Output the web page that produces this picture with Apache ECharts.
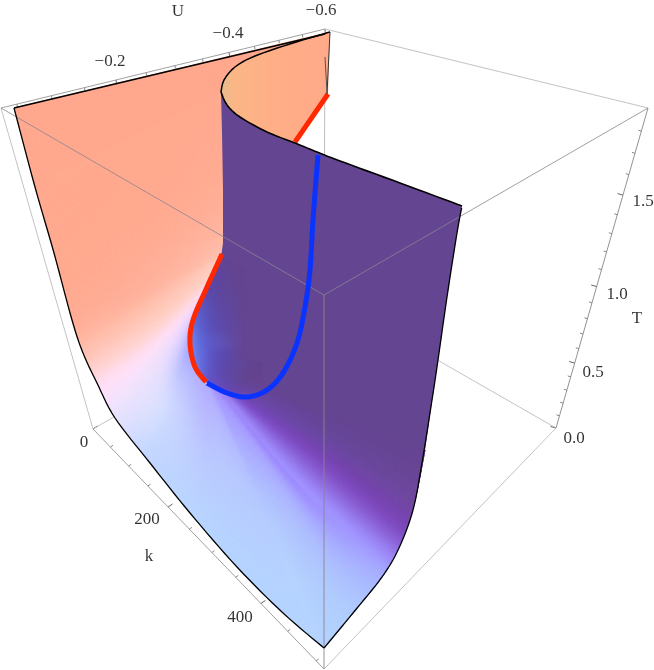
<!DOCTYPE html>
<html><head><meta charset="utf-8">
<style>html,body{margin:0;padding:0;background:#fff}#c{width:654px;height:670px}</style>
<script src="https://cdn.jsdelivr.net/npm/echarts@6/dist/echarts.min.js"></script>
</head><body><div id="c"></div>
<script>
// ---- axis ticks (data units) ----
const uMajor = [-0.2, -0.4, -0.6];
const uMinor = [-0.05,-0.1,-0.15,-0.25,-0.3,-0.35,-0.45,-0.5,-0.55];
const kMajor = [0, 200, 400];
const kMinor = [50,100,150,250,300,350,450,500];
const tMajor = [0.0, 0.5, 1.0, 1.5];
const tMinor = [0.1,0.2,0.3,0.4,0.6,0.7,0.8,0.9,1.1,1.2,1.3,1.4,1.6,1.7,1.8];
// ---- the projected plane: every curve below is [x, y] read in the view plane ----
const boxA=[1,108], boxB=[325,29], boxC=[648,108], boxD=[324,295], boxE=[93,429], boxF=[324,669], boxG=[556,428];
const topEdge   = [[14,108],[325,34]];
const leftCurve = [[14,108],[35,187],[54,253],[72,320],[83,353],[97,383],[115,418],[150,463],[190,513],[237,567],[283,613],[324,648]];
const rightCurve= [[324,648],[353,613],[382,577],[399,548],[413,510],[422,463],[432,400],[438,360],[447,297],[457,233],[462,206]];
const foldUpper = [[330,32],[293,43],[255,56],[235,67],[224,80],[221,92]];
const foldLower = [[221,92],[227,105],[240,117],[267,132],[295,143],[317,152],[340,161],[400,183],[462,206]];
const redUpper  = [[328,94],[295,142]];
const redLower  = [[222,254],[207,287],[193,320],[190,343],[195,367],[207,383]];
const blueCurve = [[207,383],[227,393],[247,397],[267,390],[283,373],[297,343],[305,307],[310,270],[313,220],[318,155]];
const sheetEdge = [[330,32],[327,94]];
const sheetInner= [[325,57],[327,93]];
const PK='#FFA98F', DP='#654592';
const pinkUnder = [[14,108],[330,32],[240,110],[240,235],[150,250]];
// outer sheet ribs: [x,y,colour] from the fold/loop out to the outline
const outerRibsLeft = [
 [[330,32,PK],[172,70,PK],[14,108,PK]],
 [[222,90,PK],[128,138,PK],[35,187,PK]],
 [[223,190,'#FFAE96'],[138,221,'#FFAA90'],[54,253,PK]],
 [[223,245,'#FFBBA8'],[148,282,'#FFB09A'],[72,320,'#FFAC94']],
 [[222,256,'#FFC8B8'],[152,305,'#FFC0AE'],[83,353,'#FFC0B0']],
 [[214,272,'#FFCFC8'],[155,325,'#FFD0C8'],[92,373,'#FFD2D4']],
 [[205,290,'#FFD8E8'],[150,350,'#FFDEF4'],[100,390,'#FFDFF6']],
 [[197,308,'#E8D0FF'],[155,365,'#F0E0FC'],[115,418,'#E8E2FF']],
 [[190,343,'#A8A8FF'],[165,395,'#D8DCFF'],[140,450,'#C8D8FF']],
 [[195,367,'#B0B0FF'],[178,415,'#C8D2FF'],[150,463,'#C0D6FF']],
 [[207,385,'#B4ACFF'],[200,450,'#BCC8FF'],[190,513,'#B8D6FF']],
 [[209,386,'#B4ACFF'],[225,470,'#B8C8FF'],[237,567,'#B4D4FF']],
 [[212,388,'#ACA0FF'],[260,505,'#B4C8FF'],[283,613,'#B4D4FF']],
 [[214,389,'#A898FF'],[270,520,'#B4CCFF'],[324,648,'#B4D4FF']]
];
const outerRibsRight = [
 [[214,389,'#A898FF'],[270,520,'#B4CCFF'],[324,648,'#B4D4FF']],
 [[218,391,'#A490FF'],[290,500,'#ACB4FF'],[353,613,'#B0CCFF']],
 [[222,394,'#A088F8'],[300,490,'#A090FF'],[382,577,'#A8B0FF']],
 [[228,396,'#9A80F0'],[310,490,'#A090FF'],[393,558,'#9C88F4']],
 [[240,399,'#7C50C8'],[325,465,'#7F4CC0'],[405,532,'#7F4CC0']],
 [[255,397,'#6C48A8'],[340,445,'#6A489F'],[415,500,'#70489F']],
 [[272,387,DP],[350,420,DP],[425,450,DP]]
];
// inside of the loop: ribs from the curve toward the dark sheet
const innerRibs = [
 [[222,253,'#5F48A0'],[232,262,DP],[245,270,DP]],
 [[207,287,'#5A48B0'],[222,295,'#5F489F'],[245,300,DP]],
 [[193,320,'#5E70E0'],[212,325,'#5C50B8'],[245,325,DP]],
 [[190,343,'#6C90F8'],[207,343,'#5E60D0'],[245,345,DP]],
 [[195,367,'#6C80F0'],[215,355,'#5C52C0'],[245,355,DP]],
 [[207,383,'#6858D0'],[222,368,'#5E4CB0'],[250,360,DP]],
 [[227,393,'#6848C0'],[235,378,'#62489F'],[255,360,DP]],
 [[247,397,'#6A48B4'],[250,380,DP],[258,362,DP]],
 [[267,390,DP],[262,378,DP],[262,362,DP]]
];
const purpleEdgeRight = [[340,161],[400,183],[462,206],[457,233],[447,297],[438,360],[425,450],[350,420],[272,387]];
const purpleEdgeFold  = [[221,257],[223,243],[223,190],[222,133]];
const labels = [
 ['U',178,12],['−0.2',110,62],['−0.4',228,34],['−0.6',321,11],
 ['0',84,443],['200',147,520],['400',240,618],['k',149,557],
 ['0.0',574,439],['0.5',593,373],['1.0',617,295],['1.5',643,202],['T',637,319]
];
// ---- projection of an axis value onto its box edge (perspective) ----
const lerp=(a,b,f)=>[a[0]+(b[0]-a[0])*f,a[1]+(b[1]-a[1])*f];
const uPos=v=>{const u=-v*10;return lerp(boxA,boxB,(0.2263*u-0.0627)/(1+0.0492*u));};
const kPos=v=>{const k=v/100;return lerp(boxE,boxF,0.1469*k/(1-0.0479*k));};
const tPos=v=>lerp(boxG,boxC,0.3753*v/(1-0.151*v));
const ticks=[];
function addTicks(vals,pos,dx,dy,w){vals.forEach(v=>{const p=pos(v);ticks.push([p[0],p[1],p[0]+dx,p[1]+dy,w]);});}
addTicks(uMajor,uPos,0.8,6,0.9);addTicks(uMinor,uPos,0.4,3,0.7);
addTicks(kMajor,kPos,4.5,-3,0.9);addTicks(kMinor,kPos,2.6,-1.8,0.7);
addTicks(tMajor,tPos,-5.5,-1.5,0.9);addTicks(tMinor,tPos,-3,-1,0.7);
// ---- smooth drawing helpers ----
const cr=(a,b,c,d,t)=>0.5*(2*b+(c-a)*t+(2*a-5*b+4*c-d)*t*t+(3*b-a-3*c+d)*t*t*t);
function spline(pts,sub){ // smooth polyline through the read points
 const out=[];
 for(let i=0;i<pts.length-1;i++){
  const p0=pts[Math.max(i-1,0)],p1=pts[i],p2=pts[i+1],p3=pts[Math.min(i+2,pts.length-1)];
  for(let s=0;s<sub;s++){const t=s/sub;out.push([cr(p0[0],p1[0],p2[0],p3[0],t),cr(p0[1],p1[1],p2[1],p3[1],t)]);}
 }
 out.push(pts[pts.length-1]);return out;
}
const rgb=h=>[1,3,5].map(i=>parseInt(h.substr(i,2),16));
function mesh(ribs,subA,subB){
 const out=[];
 const R=ribs.map(r=>r.map(q=>[q[0],q[1]].concat(rgb(q[2]))));
 const nR=R.length,n=R[0].length;
 const across=(ir,j)=>{
  const i=Math.min(Math.floor(ir),nR-2),t=ir-i;
  const a=R[Math.max(i-1,0)][j],b=R[i][j],c=R[i+1][j],d=R[Math.min(i+2,nR-1)][j];
  return b.map((_,k)=>cr(a[k],b[k],c[k],d[k],t));
 };
 const at=(ir,fr)=>{
  const j=Math.min(Math.floor(fr),n-2),t=fr-j;
  const p=j>0?across(ir,j-1):null,b=across(ir,j),c=across(ir,j+1),d=j+2<n?across(ir,j+2):null;
  return b.map((_,k)=>cr(p?p[k]:b[k],b[k],c[k],d?d[k]:c[k],t));
 };
 const clamp=v=>Math.max(0,Math.min(255,v))|0;
 for(let i=0;i<(nR-1)*subA;i++)for(let j=0;j<(n-1)*subB;j++){
  const a0=i/subA,a1=(i+1)/subA,b0=j/subB,b1=(j+1)/subB;
  const c=at((a0+a1)/2,(b0+b1)/2);
  const q=[at(a0,b0),at(a0,b1),at(a1,b1),at(a1,b0)].map(p=>[p[0],p[1]]);
  out.push({pts:q,color:`rgb(${clamp(c[2])},${clamp(c[3])},${clamp(c[4])})`});
 }
 return out;
}
const quadsL=mesh(outerRibsLeft,12,16), quadsR=mesh(outerRibsRight,20,16), innerQuads=mesh(innerRibs,12,10);
const quadSeries=(quads,z)=>({type:'custom',coordinateSystem:'cartesian2d',silent:true,clip:false,z,animation:false,
 data:quads.map((_,i)=>[i]),
 renderItem:(p,api)=>{const q=quads[api.value(0)];
  return {type:'polygon',shape:{points:q.pts.map(t=>api.coord(t))},style:{fill:q.color,stroke:q.color,lineWidth:0.7}};}});
const polySeries=(pts,fill,z)=>({type:'custom',coordinateSystem:'cartesian2d',silent:true,clip:false,z,animation:false,data:[[0]],
 renderItem:(p,api)=>({type:'polygon',shape:{points:pts.map(t=>api.coord(t))},style:{fill}})});
const lineSeries=(pts,color,width,z,opacity)=>({type:'line',data:pts,z,silent:true,animation:false,clip:false,showSymbol:false,symbol:'none',
 lineStyle:{color,width,opacity:opacity==null?1:opacity,cap:'butt',join:'round'}});
const sFoldU=spline(foldUpper,8), sFoldL=spline(foldLower,8), sLeft=spline(leftCurve,8), sRight=spline(rightCurve,8), sRed=spline(redLower,8), sBlue=spline(blueCurve,8);
const sBelowLoop=sRed.concat(sBlue.slice(1,Math.floor(sBlue.length*4/9)));
const purpleSheet=sFoldL.slice(0,sFoldL.length-16).concat(purpleEdgeRight,sBelowLoop.slice().reverse(),purpleEdgeFold);
const orangeSheet=sFoldU.concat(sFoldL.slice(0,33),[redUpper[0]]);
const grayBack='#b4b4b4', grayFront='#8a8490';
const chart=echarts.init(document.getElementById('c'),null,{renderer:'canvas'});
chart.setOption({
 animation:false,backgroundColor:'#fff',
 grid:{left:0,right:0,top:0,bottom:0},
 xAxis:{type:'value',min:0,max:654,show:false},
 yAxis:{type:'value',min:0,max:670,inverse:true,show:false},
 series:[
  lineSeries([boxB,boxC],grayBack,0.8,1),
  lineSeries([boxA,boxB],'#888',0.8,1),
  lineSeries([boxA,boxE],grayBack,0.8,1),
  lineSeries([boxE,boxD],grayBack,0.8,1),
  lineSeries([boxG,boxD],grayBack,0.8,1),
  lineSeries([boxB,boxD],grayBack,0.9,1),
  lineSeries([boxE,boxF],'#888',0.8,1),
  lineSeries([boxF,boxG],grayBack,0.8,1),
  lineSeries([boxG,boxC],'#777',0.8,1),
  {type:'custom',coordinateSystem:'cartesian2d',silent:true,clip:false,z:1,animation:false,
   data:ticks.map((_,i)=>[i]),
   renderItem:(p,api)=>{const t=ticks[api.value(0)],a=api.coord([t[0],t[1]]),b=api.coord([t[2],t[3]]);
    return {type:'line',shape:{x1:a[0],y1:a[1],x2:b[0],y2:b[1]},style:{stroke:'#555',lineWidth:t[4]}};}},
  polySeries(pinkUnder,'#FFAA91',2),
  quadSeries(quadsL,2),
  quadSeries(quadsR,2),
  polySeries(purpleSheet,'#644591',3),
  quadSeries(innerQuads,4),
  {type:'custom',coordinateSystem:'cartesian2d',silent:true,clip:false,z:5,animation:false,data:[[0]],
   renderItem:(p,api)=>({type:'polygon',shape:{points:orangeSheet.map(t=>api.coord(t))},
    style:{fill:new echarts.graphic.LinearGradient(0,0.5,1,0.5,[{offset:0,color:'#E6BE90'},{offset:0.12,color:'#FBB686'},{offset:0.5,color:'#FFAE86'},{offset:1,color:'#FFA98A'}])}})},
  lineSeries([boxA,boxD],grayFront,0.8,6),
  lineSeries([boxC,boxD],grayFront,0.8,6),
  lineSeries([boxD,boxF],grayFront,0.9,6),
  lineSeries(redUpper,'#FF2800',5,7),
  lineSeries(sRed,'#FF2800',5,7),
  lineSeries(sBlue,'#0B33FF',5,7),
  lineSeries(topEdge,'#000',1.7,8),
  lineSeries(sLeft,'#000',1.3,8),
  lineSeries(sRight,'#000',1.3,8),
  lineSeries(sFoldU,'#000',1.5,8),
  lineSeries(sFoldL,'#000',1.6,8),
  lineSeries(sheetEdge,'#333',1,8),
  lineSeries(sheetInner,'#555',1,8),
  {type:'scatter',z:9,silent:true,animation:false,symbolSize:0,clip:false,
   data:labels.map(l=>({value:[l[1],l[2]],name:l[0]})),
   label:{show:true,position:'inside',formatter:p=>p.name,fontFamily:'"Liberation Serif"',fontSize:17,color:'#000'}}
 ]
});
</script></body></html>
